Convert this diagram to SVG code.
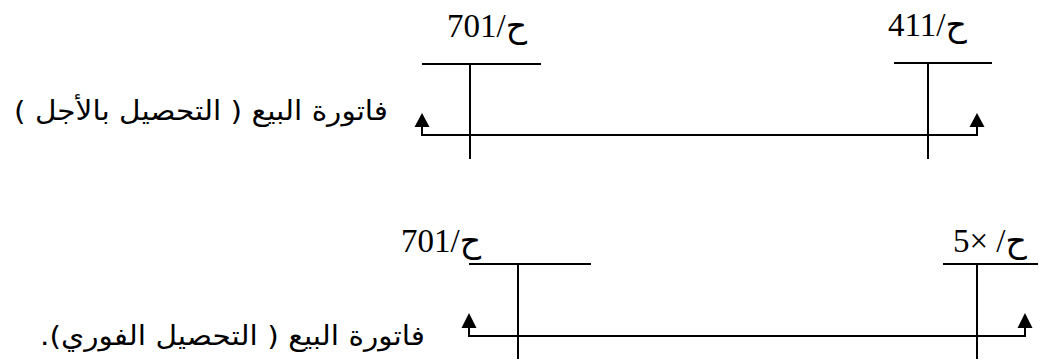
<svg xmlns="http://www.w3.org/2000/svg" width="1040" height="363" viewBox="0 0 1040 363">
<style>
.ln{stroke:#000;stroke-width:2;fill:none}
.ah{fill:#000}
.lbl{font-family:"Liberation Serif","DejaVu Serif","DejaVu Sans",serif;font-size:33px;fill:#000}
.ar{font-family:"DejaVu Sans","Noto Sans",sans-serif;font-size:27px;fill:#000}
</style>
<rect width="1040" height="363" fill="#fff"/>
<g id="acc701a">
<line class="ln" x1="422" y1="64" x2="541" y2="64"/>
<line class="ln" x1="470" y1="64" x2="470" y2="159"/>
<text class="lbl" x="447" y="37">701/ح</text>
</g>
<g id="acc411">
<line class="ln" x1="894" y1="63" x2="992" y2="63"/>
<line class="ln" x1="928" y1="63" x2="928" y2="159"/>
<text class="lbl" x="888" y="36">411/ح</text>
</g>
<g id="acc701b">
<line class="ln" x1="469" y1="264" x2="591" y2="264"/>
<line class="ln" x1="518" y1="264" x2="518" y2="359"/>
<text class="lbl" x="401" y="252">701/ح</text>
</g>
<g id="acc5x">
<line class="ln" x1="943" y1="264" x2="1038" y2="264"/>
<line class="ln" x1="977" y1="264" x2="977" y2="359"/>
<text class="lbl" x="953" y="252">5× /ح</text>
</g>
<g id="label1">
<text class="ar" x="388" y="120" direction="rtl" text-anchor="start" textLength="374" lengthAdjust="spacingAndGlyphs">فاتورة البيع ( التحصيل بالأجل )</text>
</g>
<g id="label2">
<text class="ar" x="425" y="345" direction="rtl" text-anchor="start" textLength="385" lengthAdjust="spacingAndGlyphs">فاتورة البيع ( التحصيل الفوري).</text>
</g>
<g id="connectors">
<polyline class="ln" points="422,127 422,135 977,135 977,127"/>
<polygon class="ah" points="422,113 414.5,127 429.5,127"/>
<polygon class="ah" points="977,113 969.5,127 984.5,127"/>
<polyline class="ln" points="469,328 469,336 1025,336 1025,328"/>
<polygon class="ah" points="469,313 461.5,328 476.5,328"/>
<polygon class="ah" points="1025,313 1017.5,328 1032.5,328"/>
</g>
</svg>
